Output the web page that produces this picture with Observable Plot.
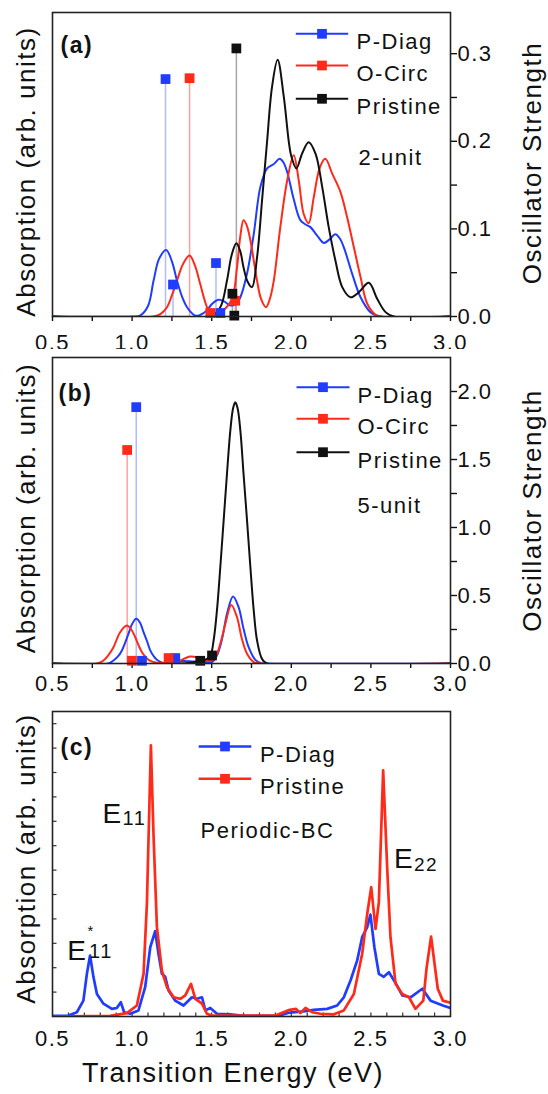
<!DOCTYPE html>
<html>
<head>
<meta charset="utf-8">
<script src="https://cdn.jsdelivr.net/npm/d3@7"></script>
<script src="https://cdn.jsdelivr.net/npm/@observablehq/plot@0.6"></script>
<style>
  html,body{margin:0;padding:0;background:#fff;}
  #chart{position:relative;width:548px;height:1094px;overflow:hidden;background:#fff;}
  #chart > svg{position:absolute;left:0;}
  #chart text{letter-spacing:1.5px;}
  #chart g[aria-label="panel-label"] text{letter-spacing:0;}
  #chart g[aria-label="sym"] text{letter-spacing:0;}
</style>
</head>
<body>
<div id="chart"></div>
<script>
// ---------- tick values ----------
const xLabelTicks = [0.5, 1.0, 1.5, 2.0, 2.5, 3.0];
const xMinorTicks = [0.5, 0.75, 1.0, 1.25, 1.5, 1.75, 2.0, 2.25, 2.5, 2.75, 3.0];
const xMinorTicksC = [0.6,0.7,0.8,0.9,1.0,1.1,1.2,1.3,1.4,1.5,1.6,1.7,1.8,1.9,2.0,2.1,2.2,2.3,2.4,2.5,2.6,2.7,2.8,2.9];
const aOscLabels = [0.0, 0.1, 0.2, 0.3];
const aOscMinor = [0, 0.05, 0.1, 0.15, 0.2, 0.25, 0.3];
const bOscLabels = [0.0, 0.5, 1.0, 1.5, 2.0];
const bOscMinor = [0, 0.25, 0.5, 0.75, 1.0, 1.25, 1.5, 1.75, 2.0];
const cAbsMinor = [0.08, 0.16, 0.24, 0.32, 0.40, 0.48, 0.56, 0.64, 0.72, 0.80, 0.88, 0.96];

// ---------- panel (a): 2-unit, absorption [E, value] ----------
const a_pdiag = [[0.5,0],[1.0,0],[1.05,0.001],[1.1,0.012],[1.135,0.041],[1.17,0.066],[1.214,0.076],[1.25,0.063],[1.282,0.041],[1.315,0.022],[1.345,0.0106],[1.397,0.001],[1.43,0.002],[1.47,0.007],[1.5,0.014],[1.543,0.019],[1.58,0.017],[1.617,0.0126],[1.65,0.014],[1.68,0.022],[1.722,0.049],[1.764,0.094],[1.806,0.148],[1.848,0.169],[1.89,0.174],[1.927,0.18],[1.95,0.176],[1.974,0.165],[2.015,0.134],[2.057,0.11],[2.09,0.105],[2.12,0.102],[2.16,0.093],[2.204,0.084],[2.24,0.088],[2.277,0.094],[2.305,0.089],[2.33,0.079],[2.382,0.049],[2.435,0.022],[2.497,0.005],[2.56,0],[3.0,0]];
const a_ocirc = [[0.5,0],[1.135,0],[1.18,0.003],[1.219,0.0106],[1.25,0.024],[1.282,0.041],[1.32,0.06],[1.361,0.0696],[1.395,0.058],[1.428,0.037],[1.455,0.019],[1.48,0.007],[1.523,0.001],[1.575,0.007],[1.628,0.02],[1.659,0.056],[1.68,0.092],[1.70,0.11],[1.72,0.104],[1.743,0.087],[1.765,0.063],[1.785,0.041],[1.81,0.02],[1.841,0.0106],[1.865,0.02],[1.89,0.041],[1.931,0.102],[1.974,0.155],[2.015,0.184],[2.047,0.155],[2.078,0.117],[2.109,0.1065],[2.141,0.136],[2.179,0.17],[2.214,0.18],[2.257,0.163],[2.309,0.142],[2.351,0.113],[2.393,0.079],[2.435,0.045],[2.477,0.0145],[2.529,0.002],[2.56,0],[3.0,0]];
const a_pristine = [[0.5,0],[1.49,0],[1.554,0.0106],[1.596,0.041],[1.625,0.07],[1.655,0.0837],[1.68,0.074],[1.70,0.056],[1.725,0.04],[1.753,0.0335],[1.785,0.0677],[1.816,0.132],[1.848,0.2],[1.879,0.262],[1.914,0.293],[1.952,0.252],[1.984,0.2],[2.0,0.183],[2.032,0.169],[2.068,0.186],[2.109,0.199],[2.152,0.186],[2.194,0.148],[2.235,0.102],[2.277,0.064],[2.32,0.0335],[2.372,0.022],[2.424,0.0277],[2.487,0.0385],[2.54,0.02],[2.592,0.005],[2.644,0],[3.0,0]];
// oscillator strengths (sticks)
const a_pdiag_osc = [[1.21,0.271],[1.257,0.0365],[1.527,0.061],[1.554,0.004]];
const a_ocirc_osc = [[1.361,0.272],[1.491,0.004],[1.648,0.018]];
const a_pristine_osc = [[1.655,0.306],[1.63,0.026],[1.642,0.001]];

// ---------- panel (b): 5-unit ----------
const b_pdiag = [[0.5,0],[0.85,0],[0.883,0.022],[0.91,0.05],[0.936,0.096],[0.977,0.218],[1.0,0.29],[1.026,0.329],[1.05,0.3],[1.072,0.23],[1.095,0.16],[1.114,0.096],[1.135,0.055],[1.156,0.027],[1.19,0.006],[1.22,0.004],[1.26,0.012],[1.32,0.018],[1.38,0.015],[1.44,0.012],[1.47,0.01],[1.502,0.012],[1.533,0.059],[1.565,0.18],[1.596,0.365],[1.634,0.493],[1.669,0.414],[1.70,0.255],[1.732,0.12],[1.774,0.027],[1.81,0.003],[1.85,0],[3.0,0]];
const b_ocirc = [[0.5,0],[0.78,0],[0.82,0.022],[0.85,0.06],[0.883,0.12],[0.925,0.23],[0.967,0.279],[0.995,0.25],[1.02,0.193],[1.04,0.135],[1.062,0.083],[1.083,0.05],[1.103,0.027],[1.156,0.005],[1.2,0.004],[1.25,0.01],[1.302,0.022],[1.34,0.042],[1.365,0.051],[1.4,0.048],[1.428,0.04],[1.47,0.022],[1.5,0.025],[1.523,0.046],[1.554,0.145],[1.586,0.292],[1.623,0.431],[1.659,0.34],[1.69,0.18],[1.722,0.071],[1.764,0.01],[1.8,0],[3.0,0]];
const b_pristine = [[0.5,0],[1.3,0],[1.386,0.01],[1.449,0.022],[1.491,0.059],[1.512,0.169],[1.533,0.39],[1.554,0.708],[1.575,1.051],[1.596,1.395],[1.617,1.713],[1.635,1.88],[1.648,1.921],[1.662,1.88],[1.68,1.713],[1.70,1.395],[1.722,1.051],[1.743,0.708],[1.764,0.39],[1.785,0.169],[1.816,0.034],[1.848,0],[3.0,0]];
const b_pdiag_osc = [[1.026,1.885],[1.062,0.02],[1.271,0.04]];
const b_ocirc_osc = [[0.969,1.57],[0.999,0.02],[1.229,0.04]];
const b_pristine_osc = [[1.428,0.02],[1.502,0.059]];

// ---------- panel (c): periodic-BC ----------
const c_pdiag = [[0.5,0.002],[0.6,0.003],[0.653,0.014],[0.694,0.052],[0.716,0.14],[0.736,0.2],[0.757,0.13],[0.779,0.074],[0.82,0.042],[0.873,0.025],[0.904,0.028],[0.929,0.047],[0.95,0.014],[0.988,0.009],[1.04,0.02],[1.082,0.096],[1.114,0.227],[1.145,0.28],[1.166,0.205],[1.187,0.14],[1.208,0.13],[1.229,0.085],[1.271,0.052],[1.323,0.036],[1.376,0.063],[1.408,0.058],[1.439,0.063],[1.46,0.02],[1.491,0.028],[1.533,0.009],[1.617,0.007],[1.70,0.002],[1.923,0.003],[1.99,0.013],[2.076,0.017],[2.141,0.022],[2.225,0.025],[2.288,0.036],[2.33,0.063],[2.372,0.118],[2.414,0.184],[2.445,0.26],[2.477,0.293],[2.497,0.334],[2.522,0.227],[2.55,0.14],[2.581,0.13],[2.613,0.145],[2.655,0.11],[2.697,0.069],[2.749,0.063],[2.823,0.091],[2.875,0.052],[2.952,0.036],[3.0,0.028]];
const c_pristine = [[0.5,0],[0.862,0.002],[0.967,0.011],[1.03,0.036],[1.072,0.14],[1.093,0.37],[1.118,0.889],[1.135,0.588],[1.156,0.293],[1.187,0.15],[1.219,0.096],[1.261,0.063],[1.303,0.058],[1.334,0.069],[1.37,0.107],[1.397,0.058],[1.439,0.042],[1.47,0.009],[1.5,0.003],[1.9,0.003],[1.99,0.022],[2.03,0.025],[2.057,0.011],[2.089,0.028],[2.131,0.014],[2.183,0.009],[2.267,0.007],[2.33,0.02],[2.393,0.074],[2.445,0.205],[2.477,0.337],[2.502,0.424],[2.529,0.287],[2.55,0.375],[2.577,0.807],[2.603,0.479],[2.623,0.26],[2.655,0.107],[2.697,0.074],[2.739,0.063],[2.78,0.025],[2.829,0.052],[2.85,0.16],[2.878,0.262],[2.92,0.091],[2.952,0.052],[3.0,0.045]];

// ---------- names / texts ----------
const namesAB = ["P-Diag", "O-Circ", "Pristine"];
const namesC = ["P-Diag", "Pristine"];
const xTitle = "Transition Energy (eV)";
const yTitleL = "Absorption (arb. units)";
const yTitleR = "Oscillator Strength";

// ---------- styling ----------
const FONT = '"Liberation Sans", Arial, Helvetica, sans-serif';
const BLUE = "#1f3cff", RED = "#ff2a1a", BLACK = "#111111";
const STEM = {[BLUE]: "#b3bbff", [RED]: "#ff9e9e", [BLACK]: "#a8a8a8"};
const hline = {draw(ctx, size){ const r = Math.sqrt(size/Math.PI); ctx.moveTo(-r,0); ctx.lineTo(r,0); }};
const tickUp = {draw(ctx, size){ const r = Math.sqrt(size/Math.PI); ctx.moveTo(0,0); ctx.lineTo(0,-r); }};
const tickRight = {draw(ctx, size){ const r = Math.sqrt(size/Math.PI); ctx.moveTo(0,0); ctx.lineTo(r,0); }};
const X = d => d[0], Y = d => d[1];

function curve(data, color, w, kind){
  return Plot.line(data, {x: X, y: Y, stroke: color, strokeWidth: w, curve: kind, clip: true});
}
function stems(data, color){
  return Plot.ruleX(data, {x: X, y1: 0, y2: Y, stroke: STEM[color], strokeWidth: 1.5});
}
function squares(data, color){
  return Plot.dot(data, {x: X, y: Y, symbol: "square", r: 5.5, fill: color, stroke: "none"});
}
function legend(names, colors, dxLine, half, dxText, dys, lw){
  return names.flatMap((n, i) => [
    Plot.dot([n], {frameAnchor: "top-left", dx: dxLine, dy: dys[i], symbol: hline, r: half, fill: "none", stroke: colors[i], strokeWidth: lw}),
    Plot.dot([n], {frameAnchor: "top-left", dx: dxLine, dy: dys[i], symbol: "square", r: 5.5, fill: colors[i], stroke: "none"}),
    Plot.text([n], {frameAnchor: "top-left", dx: dxText, dy: dys[i], textAnchor: "start", fontSize: 22, fill: "#111"})
  ]);
}
function label(t, dx, dy, size, aria){
  return Plot.text([t], {frameAnchor: "top-left", dx, dy, textAnchor: "start", fontSize: size, fill: "#111", ariaLabel: aria || "text"});
}
function panelLabel(t, dx, dy){
  return Plot.text([t], {frameAnchor: "top-left", dx, dy, textAnchor: "start", fontSize: 23, fontWeight: "bold", fill: "#111", ariaLabel: "panel-label"});
}
function xAxesAB(pad){
  return [
    Plot.axisX({ticks: xMinorTicks, tickSize: 5, strokeWidth: 1.4, tickFormat: () => "", label: null}),
    Plot.axisX({ticks: xLabelTicks, tickSize: 0, tickPadding: pad, tickFormat: d3.format(".1f"), fontSize: 22, label: null})
  ];
}
function rightAxes(minor, labels){
  return [
    Plot.axisY({anchor: "right", ticks: minor, tickSize: 6, strokeWidth: 1.4, tickFormat: () => "", label: null}),
    Plot.axisY({anchor: "right", ticks: labels, tickSize: 0, tickPadding: 7, tickFormat: d3.format(".1f"), fontSize: 22, label: null})
  ];
}
function titles(dyL, dyR, withRight){
  const m = [Plot.text([yTitleL], {frameAnchor: "left", dx: -25.5, dy: dyL, rotate: -90, textAnchor: "middle", fontSize: 26, fill: "#111"})];
  if (withRight) m.push(Plot.text([yTitleR], {frameAnchor: "right", dx: 82, dy: dyR, rotate: -90, textAnchor: "middle", fontSize: 26, fill: "#111"}));
  return m;
}
const base = {width: 548, marginLeft: 52, marginRight: 98, x: {domain: [0.5, 3.0]},
  style: {fontFamily: FONT, fontSize: "22px", color: "#111", background: "#fff"}};

// ---------- panel (a) ----------
const pa = Plot.plot({...base, height: 360, marginTop: 12, marginBottom: 44,
  y: {domain: [0, 0.347]},
  marks: [
    ...xAxesAB(18), ...rightAxes(aOscMinor, aOscLabels),
    stems(a_pdiag_osc, BLUE), stems(a_ocirc_osc, RED), stems(a_pristine_osc, BLACK),
    curve(a_pdiag, BLUE, 2, "catmull-rom"), curve(a_ocirc, RED, 2, "catmull-rom"), curve(a_pristine, BLACK, 2, "catmull-rom"),
    squares(a_pdiag_osc, BLUE), squares(a_ocirc_osc, RED), squares(a_pristine_osc, BLACK),
    Plot.frame({stroke: "#222", strokeWidth: 1.6}),
    ...legend(namesAB, [BLUE, RED, BLACK], 269.5, 26.2, 304, [21.3, 53, 86.3], 2),
    label("2-unit", 306, 136.5, 22),
    panelLabel("(a)", 8, 24),
    ...titles(7, -1.5, true)
  ]});

// ---------- panel (b) ----------
const pb = Plot.plot({...base, height: 346, marginTop: 8, marginBottom: 32,
  y: {domain: [0, 2.25]},
  marks: [
    ...xAxesAB(12), ...rightAxes(bOscMinor, bOscLabels),
    stems(b_pdiag_osc, BLUE), stems(b_ocirc_osc, RED), stems(b_pristine_osc, BLACK),
    curve(b_pdiag, BLUE, 2, "catmull-rom"), curve(b_ocirc, RED, 2, "catmull-rom"), curve(b_pristine, BLACK, 2, "catmull-rom"),
    squares(b_pdiag_osc, BLUE), squares(b_ocirc_osc, RED), squares(b_pristine_osc, BLACK),
    Plot.frame({stroke: "#222", strokeWidth: 1.6}),
    ...legend(namesAB, [BLUE, RED, BLACK], 270.5, 26.5, 305, [29.7, 61.3, 94.7], 2),
    label("5-unit", 305, 140, 22),
    panelLabel("(b)", 6, 27),
    ...titles(-2.5, 0, true)
  ]});

// ---------- panel (c) ----------
const pc = Plot.plot({...base, height: 399, marginTop: 16, marginBottom: 78,
  y: {domain: [0, 1], axis: null},
  marks: [
    Plot.axisX({ticks: xLabelTicks, tickSize: 0, tickPadding: 14, tickFormat: d3.format(".1f"), fontSize: 22, label: null}),
    Plot.dot(xMinorTicksC, {x: d => d, frameAnchor: "bottom", symbol: tickUp, r: 4, fill: "none", stroke: "#333", strokeWidth: 1.2}),
    Plot.dot(cAbsMinor, {y: d => d, frameAnchor: "left", symbol: tickRight, r: 4, fill: "none", stroke: "#333", strokeWidth: 1.2}),
    curve(c_pdiag, BLUE, 2.7, "linear"), curve(c_pristine, RED, 2.7, "linear"),
    Plot.frame({stroke: "#222", strokeWidth: 1.6}),
    ...legend(namesC, [BLUE, RED], 172.5, 26.3, 207.4, [35, 67.3], 2.5),
    label("Periodic-BC", 148, 110.5, 22),
    label("E", 50, 91.7, 28, "sym"), label("11", 70, 99.3, 20, "sym"),
    label("E", 341.5, 136.7, 28, "sym"), label("22", 361.5, 146.2, 19, "sym"),
    label("E", 14.8, 228.3, 28, "sym"), label("*", 35, 214.2, 15, "sym"), label("11", 36.5, 232.3, 20, "sym"),
    panelLabel("(c)", 8, 27),
    Plot.text([xTitle], {frameAnchor: "bottom", dx: -18.5, dy: 65.4, textAnchor: "middle", fontSize: 27, fill: "#111"}),
    ...titles(-5.5, 0, false)
  ]});

const host = document.getElementById("chart");
[[pa, 0], [pb, 349], [pc, 695]].forEach(([svg, top]) => { svg.style.top = top + "px"; host.appendChild(svg); });
</script>
</body>
</html>
